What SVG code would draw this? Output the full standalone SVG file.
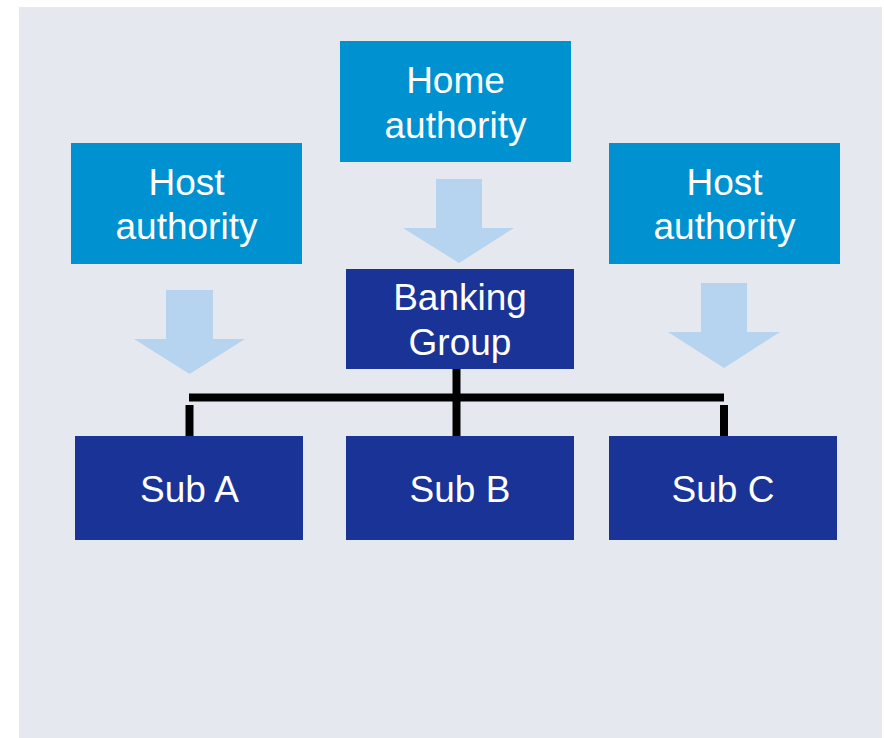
<svg xmlns="http://www.w3.org/2000/svg" width="884" height="738" viewBox="0 0 884 738">
<style>
.auth{fill:#0092D0}
.bank{fill:#1A3396}
.arr{fill:#B6D3F0}
.t{font-family:"Liberation Sans",Arial,sans-serif;font-size:37px;fill:#FFFFFF;text-anchor:middle}
.ln{stroke:#000000;stroke-width:8;fill:none}
</style>
<rect x="19" y="7" width="863" height="731" fill="#E5E9EF"/>
<g id="home-authority">
<rect class="auth" x="340" y="41" width="231" height="121"/>
<text class="t" x="455.5" y="93">Home</text>
<text class="t" x="455.5" y="138">authority</text>
</g>
<g id="host-authority-left">
<rect class="auth" x="71" y="143" width="231" height="121"/>
<text class="t" x="186.5" y="195">Host</text>
<text class="t" x="186.5" y="239">authority</text>
</g>
<g id="host-authority-right">
<rect class="auth" x="609" y="143" width="231" height="121"/>
<text class="t" x="724.5" y="195">Host</text>
<text class="t" x="724.5" y="239">authority</text>
</g>
<g id="banking-group">
<rect class="bank" x="346" y="269" width="228" height="100"/>
<text class="t" x="460" y="310">Banking</text>
<text class="t" x="460" y="355">Group</text>
</g>
<g id="sub-a">
<rect class="bank" x="75" y="436" width="228" height="104"/>
<text class="t" x="189.5" y="502">Sub A</text>
</g>
<g id="sub-b">
<rect class="bank" x="346" y="436" width="228" height="104"/>
<text class="t" x="460" y="502">Sub B</text>
</g>
<g id="sub-c">
<rect class="bank" x="609" y="436" width="228" height="104"/>
<text class="t" x="723" y="502">Sub C</text>
</g>
<g id="connectors">
<polygon class="arr" points="436,179 482,179 482,228 514,228 459,263 403,228 436,228"/>
<polygon class="arr" points="166,290 213,290 213,339 245,339 189.5,374 134,339 166,339"/>
<polygon class="arr" points="701,283 747,283 747,332 780,332 724,368 668,332 701,332"/>
<line class="ln" x1="456.5" y1="369" x2="456.5" y2="436"/>
<line class="ln" x1="189" y1="397.5" x2="724" y2="397.5"/>
<line class="ln" x1="189.5" y1="405" x2="189.5" y2="436"/>
<line class="ln" x1="724" y1="405" x2="724" y2="436"/>
</g>
</svg>
